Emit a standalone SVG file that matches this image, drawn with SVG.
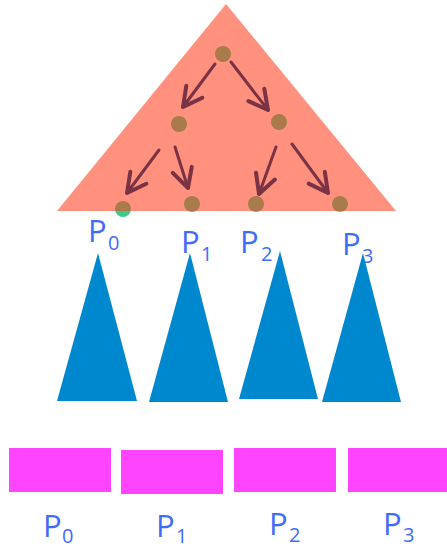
<svg xmlns="http://www.w3.org/2000/svg" width="447" height="546" viewBox="0 0 447 546">
  <style>
    .node { fill: #3CCB8A; }
    .tree { fill: #FF3B19; fill-opacity: 0.56; }
    .edge { stroke: #7A3344; stroke-width: 3; stroke-linecap: round; fill: none; }
    .sub { fill: #0088CE; }
    .blk { fill: #FF44FF; }
    .lbl { font-family: "Open Sans", "Noto Sans", sans-serif; fill: #3F6CF8; }
    .p { font-size: 31px; }
    .s { font-size: 20px; }
  </style>
  <defs>
    <marker id="head" markerUnits="userSpaceOnUse" orient="auto" markerWidth="40" markerHeight="40" refX="0" refY="0" viewBox="-25 -20 40 40" overflow="visible">
      <path d="M-19,-10 L0,0 L-19,10" fill="none" stroke="#7A3344" stroke-width="4" stroke-linecap="round" stroke-linejoin="round"/>
    </marker>
  </defs>

  <g id="nodes">
    <circle id="n-root" class="node" cx="223" cy="54" r="8"/>
    <circle id="n-l" class="node" cx="179" cy="124" r="8"/>
    <circle id="n-r" class="node" cx="279" cy="122" r="8"/>
    <circle id="n-ll" class="node" cx="123" cy="209" r="8"/>
    <circle id="n-lr" class="node" cx="192" cy="204" r="8"/>
    <circle id="n-rl" class="node" cx="256" cy="204" r="8"/>
    <circle id="n-rr" class="node" cx="340" cy="204" r="8"/>
  </g>

  <g id="top-tree">
    <polygon class="tree" points="226,4 396,211 57,211"/>
  </g>

  <g id="connectors">
    <line class="edge" x1="215" y1="64" x2="183" y2="107" marker-end="url(#head)"/>
    <line class="edge" x1="231" y1="62" x2="268" y2="110" marker-end="url(#head)"/>
    <line class="edge" x1="159" y1="150" x2="127" y2="193" marker-end="url(#head)"/>
    <line class="edge" x1="175" y1="147" x2="188" y2="188" marker-end="url(#head)"/>
    <line class="edge" x1="276" y1="147" x2="259" y2="194" marker-end="url(#head)"/>
    <line class="edge" x1="292" y1="144" x2="328" y2="193" marker-end="url(#head)"/>
  </g>

  <g id="top-labels">
    <text class="lbl"><tspan class="p" x="88" y="242">P</tspan><tspan class="s" x="108" y="250">0</tspan></text>
    <text class="lbl"><tspan class="p" x="181" y="253">P</tspan><tspan class="s" x="201" y="261">1</tspan></text>
    <text class="lbl"><tspan class="p" x="240" y="253">P</tspan><tspan class="s" x="261" y="261">2</tspan></text>
    <text class="lbl"><tspan class="p" x="342" y="255">P</tspan><tspan class="s" x="362" y="263">3</tspan></text>
  </g>

  <g id="subtrees">
    <polygon id="t0" class="sub" points="98,253 137,401 57,401"/>
    <polygon id="t1" class="sub" points="190,253 228,402 149,402"/>
    <polygon id="t2" class="sub" points="280,251 318,399 239,399"/>
    <polygon id="t3" class="sub" points="363,253 401,402 322,402"/>
  </g>

  <g id="blocks">
    <rect id="b0" class="blk" x="9" y="448" width="102" height="44"/>
    <rect id="b1" class="blk" x="121" y="450" width="102" height="44"/>
    <rect id="b2" class="blk" x="234" y="448" width="102" height="44"/>
    <rect id="b3" class="blk" x="348" y="448" width="99" height="44"/>
  </g>

  <g id="bottom-labels">
    <text class="lbl"><tspan class="p" x="43" y="537">P</tspan><tspan class="s" x="62" y="543">0</tspan></text>
    <text class="lbl"><tspan class="p" x="156" y="537">P</tspan><tspan class="s" x="176" y="543">1</tspan></text>
    <text class="lbl"><tspan class="p" x="269" y="535">P</tspan><tspan class="s" x="289" y="542">2</tspan></text>
    <text class="lbl"><tspan class="p" x="383" y="535">P</tspan><tspan class="s" x="403" y="542">3</tspan></text>
  </g>
</svg>
